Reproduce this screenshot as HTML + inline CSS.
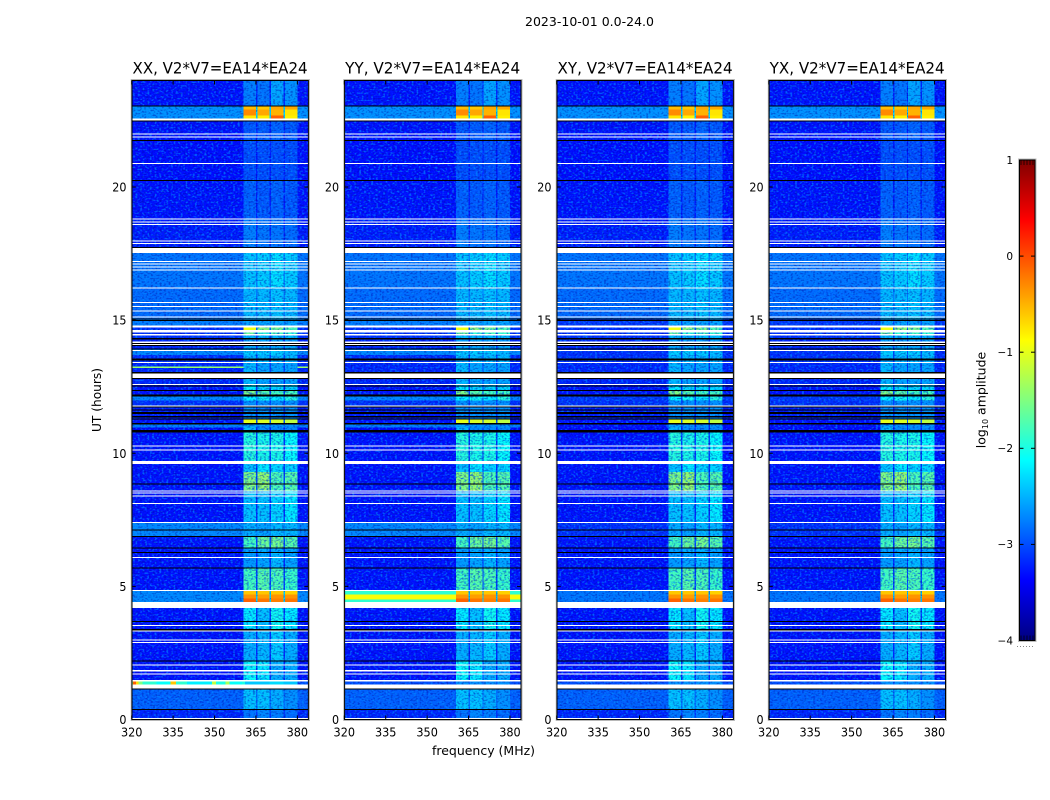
<!DOCTYPE html>
<html lang="en">
<head>
<meta charset="utf-8">
<title>2023-10-01 0.0-24.0</title>
<style>
html,body{margin:0;padding:0;background:#fff;width:1050px;height:800px;overflow:hidden}
svg{display:block}
text{font-family:"DejaVu Sans","Liberation Sans",sans-serif;fill:#000}
</style>
</head>
<body>
<svg id="fig" xmlns="http://www.w3.org/2000/svg" width="1050" height="800" viewBox="0 0 1050 800">
  <defs>
    <filter id="speckle-light" x="0" y="0" width="100%" height="100%" color-interpolation-filters="sRGB">
      <feTurbulence type="fractalNoise" baseFrequency="0.42 0.55" numOctaves="1" seed="4"/>
      <feColorMatrix type="matrix" values="0 0 0 0 0  0 0 0 0 0.55  0 0 0 0 1  5 0 0 0 -2.5"/>
    </filter>
    <filter id="speckle-dark" x="0" y="0" width="100%" height="100%" color-interpolation-filters="sRGB">
      <feTurbulence type="fractalNoise" baseFrequency="0.45 0.6" numOctaves="1" seed="11"/>
      <feColorMatrix type="matrix" values="0 0 0 0 0  0 0 0 0 0  0 0 0 0 0.62  4.5 0 0 0 -2.2"/>
    </filter>
    <linearGradient id="jet-gradient" x1="0" y1="1" x2="0" y2="0"></linearGradient>
  </defs>
  <text x="589.5" y="26" font-size="12.5" text-anchor="middle" textLength="129" lengthAdjust="spacingAndGlyphs">2023-10-01 0.0-24.0</text>
  <g id="panels"></g>
  <text transform="translate(101,400) rotate(-90)" font-size="12.5" text-anchor="middle" textLength="64" lengthAdjust="spacingAndGlyphs">UT (hours)</text>
  <text x="483.5" y="755" font-size="12.5" text-anchor="middle" textLength="103" lengthAdjust="spacingAndGlyphs">frequency (MHz)</text>
  <g id="colorbar"></g>
  <text transform="translate(985.5,400) rotate(-90)" font-size="12.5" text-anchor="middle">log<tspan font-size="8" dy="2.5">10</tspan><tspan dy="-2.5"> amplitude</tspan></text>
</svg>
<script>
// ---- axis labels ----
const polarizations = ['XX', 'YY', 'XY', 'YX'];
const baselineLabel = 'V2*V7=EA14*EA24';
const freqTicks = [320, 335, 350, 365, 380];
const utTicks = [0, 5, 10, 15, 20];
const colorTicks = [1, 0, -1, -2, -3, -4];

// ---- sub-band frequency limits (MHz) ----
const subBandLo = [360.5, 365.5, 370.5, 375.5];
const subBandHi = [365, 370, 375, 380];

// ---- time rows: start UT (hours) and log10 amplitude per row ----
const rowStart = [0,0.39,1.16,1.32,1.48,2.2,3.4,4.41,4.55,4.7,4.86,5.7,6.29,6.45,6.85,7.41,8.6,9.3,9.7,10.88,10.97,11.14,11.28,11.8,11.98,12.13,12.2,12.37,12.6,13.05,13.43,13.55,13.69,13.93,14.33,14.47,14.62,14.79,15.07,16.2,17.72,18.8,20.24,21.76,22.58,22.68,22.92,23.06];
const bgParallel = [-3.2,-2.9,-3.0,-3.0,-3.3,-3.3,-3.3,-2.7,-2.7,-2.7,-3.3,-3.3,-3.3,-3.3,-2.7,-3.3,-3.3,-3.3,-3.3,-3.35,-2.75,-3.3,-3.25,-3.15,-2.7,-3.3,-3.3,-3.3,-3.2,-3.2,-3.15,-3.15,-2.7,-3.2,-3.15,-3.15,-3.15,-2.75,-2.85,-2.8,-3.25,-3.3,-3.32,-3.3,-2.65,-2.65,-2.65,-3.3];
const bgCross =    [-3.2,-2.9,-3.0,-3.0,-3.3,-3.3,-3.3,-2.8,-2.8,-2.8,-3.3,-3.3,-3.3,-3.3,-3.15,-3.3,-3.3,-3.3,-3.3,-3.35,-3.3,-3.3,-3.25,-3.15,-3.1,-3.3,-3.3,-3.3,-3.2,-3.2,-3.15,-3.15,-3.15,-3.2,-3.15,-3.15,-3.15,-3.1,-2.85,-2.8,-3.25,-3.3,-3.32,-3.3,-2.65,-2.65,-2.65,-3.3];
const sub1 = [-2.8,-2.4,-2.55,-2.65,-2.1,-2.5,-2.2,-0.1,-0.35,-0.6,-1.8,-2.6,-2.55,-1.8,-2.5,-2.4,-1.5,-2.4,-1.95,-2.45,-2.55,-1.0,-2.65,-2.65,-2.15,-2.75,-1.5,-2.2,-2.45,-2.45,-2.55,-2.45,-2.35,-2.55,-2.45,-1.6,-0.95,-2.55,-2.45,-2.4,-2.75,-2.9,-3.0,-2.95,-0.75,-0.3,-0.55,-2.75];
const sub2 = [-2.7,-2.4,-2.55,-2.65,-2.2,-2.45,-2.4,-0.2,-0.4,-0.6,-1.7,-2.55,-2.5,-1.6,-2.55,-2.4,-1.4,-2.2,-2.0,-2.7,-2.65,-1.05,-2.65,-2.65,-2.05,-2.75,-1.7,-2.3,-2.55,-2.55,-2.45,-2.45,-2.35,-2.55,-2.45,-1.9,-1.45,-2.55,-2.45,-2.35,-2.8,-2.95,-3.0,-2.95,-0.8,-0.45,-0.6,-2.8];
const sub3 = [-2.75,-2.5,-2.6,-2.65,-2.5,-2.35,-2.05,-0.25,-0.35,-0.6,-1.75,-2.45,-2.5,-1.55,-2.45,-2.3,-1.75,-2.3,-2.0,-2.7,-2.65,-1.1,-2.65,-2.65,-2.2,-2.75,-1.8,-2.3,-2.55,-2.55,-2.45,-2.45,-2.35,-2.55,-2.45,-1.8,-1.55,-2.55,-2.4,-2.25,-2.8,-2.9,-3.0,-2.9,-0.1,-0.5,-0.45,-2.55];
const sub4 = [-2.85,-2.65,-2.7,-2.65,-2.5,-2.5,-2.2,-0.2,-0.35,-0.65,-1.85,-2.55,-2.55,-1.7,-2.45,-2.2,-1.7,-2.3,-2.1,-2.7,-2.65,-1.2,-2.65,-2.65,-1.95,-2.75,-1.8,-2.3,-2.55,-2.55,-2.45,-2.45,-2.45,-2.55,-2.45,-1.9,-1.75,-2.55,-2.45,-2.35,-2.85,-2.95,-3.0,-2.95,-0.8,-0.75,-0.45,-2.65];

// ---- polarization-specific off-band features ----
const extraPol = ['YY', 'YY', 'YY', 'XX'];
const extraLo = [4.41, 4.5, 4.69, 13.2];
const extraHi = [4.5, 4.69, 4.82, 13.25];
const extraLevel = [-1.9, -0.9, -1.9, -1.4];

// ---- XX interference strip near 1.4 UT ----
const stripLo = 1.32;
const stripHi = 1.43;
const stripFreq = [320,320.5,321.5,322.5,324,329,334,336,340,349,350.5,354,355.5,360,361,365,370,375,380];
const stripLevel = [-1.4,-0.1,-0.7,-1.5,-1.9,-2.1,-0.6,-1.9,-2.2,-1.2,-2.0,-1.3,-2.1,-2.0,-2.4,-2.4,-2.3,-2.4];

// ---- flagged (white) and zero (black) time ranges, UT hours ----
const whiteLo = [0.02,1.17,1.43,1.70,1.81,2.04,2.87,2.97,3.31,3.51,4.18,4.82,6.06,7.38,8.10,8.39,8.49,8.56,9.59,10.12,10.26,11.76,12.56,12.83,13.39,13.84,14.05,14.15,14.42,14.54,14.72,15.10,15.33,15.49,15.64,16.19,16.87,16.97,17.08,17.19,17.52,17.85,17.95,18.57,18.68,18.77,20.88,21.85,21.97,22.49];
const whiteHi = [0.05,1.31,1.48,1.73,1.85,2.07,2.91,3.01,3.35,3.55,4.41,4.86,6.10,7.41,8.13,8.42,8.53,8.60,9.70,10.15,10.30,11.80,12.60,13.00,13.43,13.87,14.12,14.20,14.47,14.62,14.79,15.14,15.37,15.53,15.68,16.23,16.91,17.01,17.12,17.23,17.72,17.89,17.99,18.61,18.71,18.81,20.91,21.90,22.01,22.58];
const blackLo = [0.36,1.13,2.18,3.35,3.66,5.69,6.26,6.43,6.85,7.11,8.84,10.78,11.08,11.28,11.34,11.48,11.61,11.72,12.13,12.34,12.51,12.79,13.00,13.49,13.89,14.03,14.13,14.28,14.96,15.03,17.72,20.22,21.72,22.47,23.03];
const blackHi = [0.39,1.16,2.22,3.39,3.70,5.71,6.29,6.46,6.89,7.13,8.86,10.88,11.14,11.31,11.40,11.54,11.65,11.76,12.20,12.37,12.55,12.83,13.05,13.55,13.93,14.07,14.15,14.33,15.01,15.07,17.74,20.26,21.76,22.49,23.06];

// ---- layout and scales ----
const SVGNS = 'http://www.w3.org/2000/svg';
const panelLeft = [131.7, 344.3, 556.7, 768.8];
const panelW = 176.7;
const panelTop = 80.5;
const panelBottom = 719.5;
const freqMin = 320, freqMax = 384, utMax = 24;
const colorMin = -4, colorMax = 1;
function xScale(left, f) { return left + (f - freqMin) / (freqMax - freqMin) * panelW; }
function yScale(ut) { return panelBottom - ut / utMax * (panelBottom - panelTop); }

function jet(level) {
  const t = Math.max(0, Math.min(1, (level - colorMin) / (colorMax - colorMin)));
  const ramp = v => Math.round(255 * Math.max(0, Math.min(1, v)));
  return 'rgb(' + ramp(Math.min(4 * t - 1.5, -4 * t + 4.5)) + ',' + ramp(Math.min(4 * t - 0.5, -4 * t + 3.5)) + ',' + ramp(Math.min(4 * t + 0.5, -4 * t + 2.5)) + ')';
}
function svgEl(tag, parent, attrs) {
  const el = document.createElementNS(SVGNS, tag);
  for (const k in attrs) el.setAttribute(k, attrs[k]);
  parent.appendChild(el);
  return el;
}
function cell(parent, x0, x1, ut0, ut1, fill) {
  const yTop = yScale(ut1);
  const h = Math.max(1, yScale(ut0) - yTop);
  const el = svgEl('rect', parent, { x: x0, y: yTop, width: x1 - x0, height: h, fill: fill, 'shape-rendering': 'crispEdges' });
  
  
  return el;
}
const subLevels = [sub1, sub2, sub3, sub4];
const panelsRoot = document.getElementById('panels');

polarizations.forEach(function (pol, p) {
  const left = panelLeft[p];
  const right = left + panelW;
  const bg = (pol === 'XX' || pol === 'YY') ? bgParallel : bgCross;
  const group = svgEl('g', panelsRoot, {});
  
  
  const weak = svgEl('g', group, {});
  
  

  const strong = document.createElementNS(SVGNS, 'g');
  
  

  rowStart.forEach(function (start, r) {
    const end = r + 1 < rowStart.length ? rowStart[r + 1] : utMax;
    const base = bg[r];
    cell(weak, left, xScale(left, subBandLo[0]), start, end, jet(base));
    cell(weak, xScale(left, subBandHi[3]), right, start, end, jet(base));
    subBandLo.forEach(function (lo, b) {
      const level = subLevels[b][r];
      cell(level > -1.3 ? strong : weak, xScale(left, lo), xScale(left, subBandHi[b]), start, end, jet(level));
      if (b < 3) {
        cell(weak, xScale(left, subBandHi[b]), xScale(left, subBandLo[b + 1]), start, end, jet(base + 0.15 * (level - base)));
      }
    });
  });

  ['speckle-light', 'speckle-dark'].forEach(function (id) {
    const sp = svgEl('rect', group, { x: left, y: panelTop, width: panelW, height: panelBottom - panelTop, filter: 'url(#' + id + ')', fill: '#000', opacity: id === 'speckle-light' ? 0.65 : 0.4 });
    
    
  });
  group.appendChild(strong);

  extraPol.forEach(function (name, i) {
    if (name !== pol) return;
    const fill = jet(extraLevel[i]);
    cell(group, left, xScale(left, subBandLo[0]), extraLo[i], extraHi[i], fill);
    cell(group, xScale(left, subBandHi[3]), right, extraLo[i], extraHi[i], fill);
  });
  if (pol === 'XX') {
    stripLevel.forEach(function (level, i) {
      cell(group, xScale(left, stripFreq[i]), xScale(left, stripFreq[i + 1]), stripLo, stripHi, jet(level));
    });
  }
  whiteLo.forEach(function (lo, i) { cell(group, left, right, lo, whiteHi[i], '#fff'); });
  blackLo.forEach(function (lo, i) { cell(group, left, right, lo, blackHi[i], '#000'); });

  const halo = svgEl('rect', group, { x: left - 0.5, y: panelTop - 1, width: panelW + 1.5, height: panelBottom - panelTop + 2, fill: 'none', stroke: '#b8b8b8', 'stroke-width': 1 });
  
  
  const frame = svgEl('rect', group, { x: left + 0.3, y: panelTop, width: panelW - 0.3, height: panelBottom - panelTop, fill: 'none', stroke: '#000', 'stroke-width': 1 });
  
  

  const title = svgEl('text', group, { x: left + panelW / 2, y: 73.5, 'font-size': 16, 'text-anchor': 'middle', textLength: 175, lengthAdjust: 'spacingAndGlyphs' });
  title.textContent = pol + ', ' + baselineLabel;
  
  

  freqTicks.forEach(function (f) {
    const x = xScale(left, f);
    const tb = svgEl('line', group, { x1: x, x2: x, y1: panelBottom, y2: panelBottom - 4, stroke: '#000', 'stroke-width': 1 });
    
    
    const tt = svgEl('line', group, { x1: x, x2: x, y1: panelTop, y2: panelTop + 4, stroke: '#000', 'stroke-width': 1 });
    
    
    const lab = svgEl('text', group, { x: x, y: 736.5, 'font-size': 12.5, 'text-anchor': 'middle', textLength: 21.5, lengthAdjust: 'spacingAndGlyphs' });
    lab.textContent = f;
    
    
  });
  utTicks.forEach(function (u) {
    const y = yScale(u);
    const tl = svgEl('line', group, { x1: left, x2: left + 4, y1: y, y2: y, stroke: '#000', 'stroke-width': 1 });
    
    
    const tr = svgEl('line', group, { x1: right, x2: right - 4, y1: y, y2: y, stroke: '#000', 'stroke-width': 1 });
    
    
    const text = String(u);
    const lab = svgEl('text', group, { x: left - 5.2, y: y + 4.5, 'font-size': 12.5, 'text-anchor': 'end', textLength: 7.1 * text.length, lengthAdjust: 'spacingAndGlyphs' });
    lab.textContent = text;
    
    
  });
});

// ---- colorbar ----
const cbLeft = 1019.5, cbW = 15.5, cbTop = 160, cbBottom = 640.5;
function cbY(level) { return cbBottom - (level - colorMin) / (colorMax - colorMin) * (cbBottom - cbTop); }
const grad = document.getElementById('jet-gradient');
for (let i = 0; i <= 40; i++) {
  const stop = svgEl('stop', grad, { offset: (i / 40 * 100) + '%', 'stop-color': jet(colorMin + i / 40 * (colorMax - colorMin)) });
}
const cbRoot = document.getElementById('colorbar');
const cbRect = svgEl('rect', cbRoot, { x: cbLeft, y: cbTop, width: cbW, height: cbBottom - cbTop, fill: 'url(#jet-gradient)', stroke: '#000', 'stroke-width': 1 });


const cbHalo = svgEl('rect', cbRoot, { x: cbLeft - 1, y: cbTop - 1, width: cbW + 2, height: cbBottom - cbTop + 2, fill: 'none', stroke: '#bdbdbd', 'stroke-width': 1 });


colorTicks.forEach(function (v) {
  const y = cbY(v);
  if (v !== colorMax && v !== colorMin) {
    const a = svgEl('line', cbRoot, { x1: cbLeft, x2: cbLeft + 4, y1: y, y2: y, stroke: '#000' });
    
    
    const b = svgEl('line', cbRoot, { x1: cbLeft + cbW, x2: cbLeft + cbW - 4, y1: y, y2: y, stroke: '#000' });
    
    
  }
  const lab = svgEl('text', cbRoot, { x: 1013, y: y + 3.8, 'font-size': 10.5, 'text-anchor': 'end' });
  lab.textContent = v < 0 ? '\u2212' + Math.abs(v) : String(v);
  
  
});
[[cbTop, 1], [cbBottom, -1]].forEach(function (edge) {
  for (let x = cbLeft + 1.5; x < cbLeft + cbW; x += 3) {
    const m = svgEl('line', cbRoot, { x1: x, x2: x, y1: edge[0], y2: edge[0] + edge[1] * 5, stroke: '#000', 'stroke-width': 0.7 });
    
    
  }
});
const dots = svgEl('line', cbRoot, { x1: 1017, x2: 1035, y1: 646.5, y2: 646.5, stroke: '#888', 'stroke-width': 1, 'stroke-dasharray': '1 2' });


</script>
</body>
</html>
